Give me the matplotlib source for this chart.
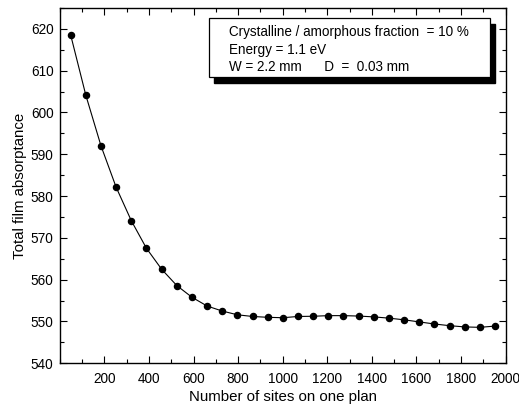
import matplotlib
matplotlib.use("Agg")
import matplotlib.pyplot as plt
from matplotlib.patches import Rectangle
from matplotlib.ticker import MultipleLocator

plt.rcParams['font.family'] = ['Liberation Sans', 'DejaVu Sans']

sites = [49, 117, 185, 253, 321, 389, 457, 525, 593, 661, 729, 797, 865, 933,
         1001, 1069, 1137, 1205, 1273, 1341, 1409, 1477, 1545, 1613, 1681,
         1749, 1817, 1885, 1953]
absorptance = [618.5, 604.1, 592.0, 582.1, 574.1, 567.5, 562.5, 558.6, 555.8,
               553.7, 552.5, 551.6, 551.2, 551.0, 550.9, 551.2, 551.25, 551.4,
               551.4, 551.3, 551.1, 550.8, 550.4, 549.9, 549.4, 549.0, 548.7,
               548.6, 548.9]
info_lines = ["Crystalline / amorphous fraction  = 10 %",
              "Energy = 1.1 eV",
              "W = 2.2 mm      D  =  0.03 mm"]

fig = plt.figure(figsize=(5.19, 4.07), dpi=100)
ax = fig.add_axes([0.1152, 0.1074, 0.8588, 0.8730])

ax.plot(sites, absorptance, color='black', lw=0.8, marker='o', ms=4.4,
        markerfacecolor='black', markeredgecolor='black')

ax.set_xlim(0, 2000)
ax.set_ylim(540, 625)
ax.xaxis.set_major_locator(MultipleLocator(200))
ax.xaxis.set_minor_locator(MultipleLocator(100))
ax.yaxis.set_major_locator(MultipleLocator(10))
ax.yaxis.set_minor_locator(MultipleLocator(5))
ax.set_xticks(range(200, 2001, 200))
ax.tick_params(which='both', direction='in', top=True, right=True, labelsize=9.8, pad=4.5)
ax.tick_params(axis='x', which='both', pad=6)
ax.tick_params(which='major', length=5, width=0.8)
ax.tick_params(which='minor', length=3, width=0.8)
for s in ax.spines.values():
    s.set_linewidth(1.0)

ax.set_xlabel("Number of sites on one plan", fontsize=10.8, labelpad=3)
ax.set_ylabel("Total film absorptance", fontsize=10.8, labelpad=3)

# info box with shadow
x0, y0, x1, y1 = 0.334, 0.805, 0.965, 0.971
dx, dy = 0.0112, 0.0155
ax.add_patch(Rectangle((x0 + dx, y0 - dy), x1 - x0, y1 - y0, transform=ax.transAxes,
                       facecolor='black', edgecolor='black', zorder=4))
ax.add_patch(Rectangle((x0, y0), x1 - x0, y1 - y0, transform=ax.transAxes,
                       facecolor='white', edgecolor='black', lw=0.9, zorder=5))
for i, line in enumerate(info_lines):
    ax.text(0.380, 0.931 - i * 0.048, line, transform=ax.transAxes,
            fontsize=9.75, va='center', ha='left', zorder=6)

fig.savefig("out.png", dpi=100)
